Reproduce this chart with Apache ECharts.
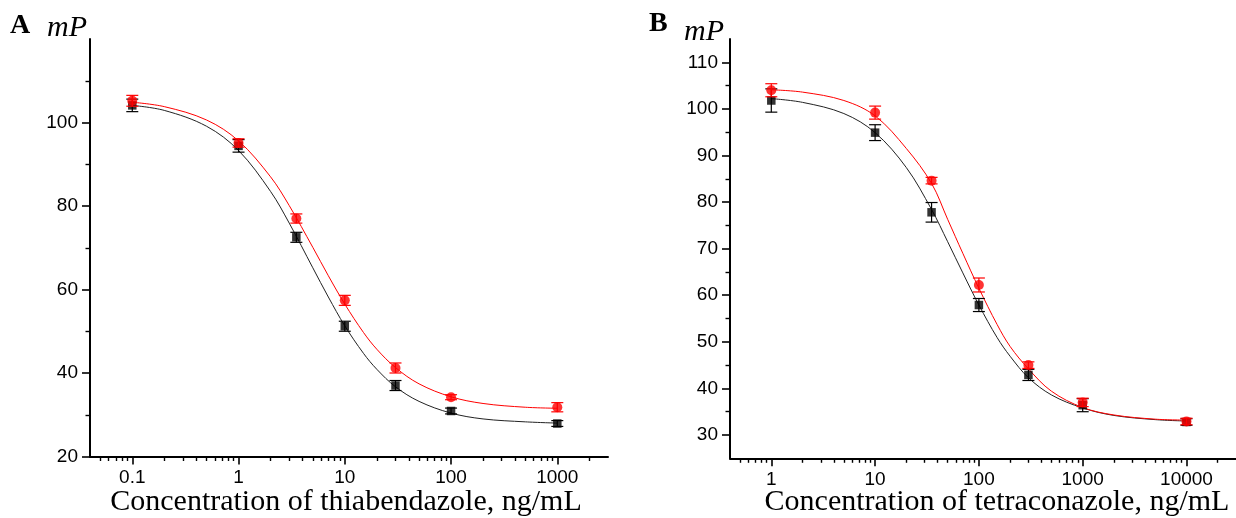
<!DOCTYPE html>
<html><head><meta charset="utf-8">
<script src="https://cdn.jsdelivr.net/npm/echarts@6/dist/echarts.min.js"></script>
<style>html,body{margin:0;padding:0;background:#fff}#c{width:1236px;height:518px}</style>
</head><body><div id="c"></div>
<script>
// ---------- Panel A: thiabendazole ----------
const xA = [0.1, 1, 3.5, 10, 30, 100, 1000];
const blackA = [104.1, 94.4, 72.5, 51.2, 37.0, 30.9, 27.9];
const blackAErr = [1.5, 1.5, 1.2, 1.2, 1.2, 0.7, 0.7];
const redA = [105.2, 95.1, 77.0, 57.4, 41.2, 34.2, 31.8];
const redAErr = [1.3, 1.0, 1.1, 1.2, 1.2, 0.6, 1.1];
const fitXA = [0.1, 0.2, 0.5, 1, 2, 3, 5, 7, 10, 15, 20, 30, 50, 100, 200, 500, 1000];
const fitBlackA = [104.1, 102.9, 99.1, 93.3, 83.5, 75.9, 65.2, 58.2, 51.3, 44.7, 40.9, 36.7, 33.2, 30.4, 29.0, 28.3, 28.0];
const fitRedA = [104.85, 103.8, 100.6, 95.6, 87.0, 80.1, 70.1, 63.3, 56.5, 49.7, 45.7, 41.3, 37.4, 34.3, 32.7, 31.8, 31.55];
const xMajorA = [0.1, 1, 10, 100, 1000];
const yLabelsA = [20, 40, 60, 80, 100];

// ---------- Panel B: tetraconazole ----------
const xB = [1, 10, 35, 100, 300, 1000, 10000];
const blackB = [101.8, 94.9, 77.8, 57.9, 42.9, 36.4, 32.8];
const blackBErr = [2.5, 1.7, 2.1, 1.4, 1.2, 1.4, 0.7];
const redB = [104.0, 99.2, 84.6, 62.2, 45.0, 37.0, 32.9];
const redBErr = [1.4, 1.4, 0.7, 1.5, 0.7, 0.9, 0.7];
const fitXB = [1, 2, 5, 10, 20, 35, 50, 70, 100, 150, 200, 300, 500, 1000, 2000, 5000, 10000];
const fitBlackB = [102.2, 101.4, 99.0, 94.9, 87.4, 78.4, 71.5, 64.8, 57.9, 50.9, 46.9, 42.3, 38.6, 35.8, 34.2, 33.3, 33.0];
const fitRedB = [104.1, 103.6, 101.8, 98.5, 91.5, 84.0, 76.3, 69.0, 61.5, 53.7, 49.0, 44.2, 39.4, 35.9, 34.3, 33.4, 33.2];
const xMajorB = [1, 10, 100, 1000, 10000];
const yLabelsB = [30, 40, 50, 60, 70, 80, 90, 100, 110];
const yMinorB = [35, 45, 55, 65, 75, 85, 95, 105];

function minorLog(lo, hi) {
  const out = [];
  for (let e = -3; e <= 5; e++) {
    for (let m = 2; m <= 9; m++) {
      const v = +(m * Math.pow(10, e)).toPrecision(6);
      if (v >= lo && v <= hi) out.push(v);
    }
  }
  return out;
}
const xMinorA = minorLog(0.045, 2500);
const xMinorB = minorLog(0.45, 25000);

const sansFont = 'Liberation Sans';
const AX = '#000';
const LABEL_SIZE = 19;

function logFmt(v) {
  const n = Number(v);
  const l = Math.log10(n);
  if (Math.abs(l - Math.round(l)) > 1e-6) return '';
  return String(parseFloat(n.toPrecision(6)));
}

function xAxes(grid, min, max, majors, minors) {
  return [
    { type: 'log', gridIndex: grid, min: min, max: max, position: 'bottom',
      axisLine: { show: true, lineStyle: { color: AX, width: 2 } },
      axisTick: { show: true, customValues: majors, length: 8, lineStyle: { color: AX, width: 1.6 } },
      axisLabel: { show: true, customValues: majors, formatter: logFmt, margin: 12,
        color: '#000', fontFamily: sansFont, fontSize: LABEL_SIZE },
      splitLine: { show: false }, minorTick: { show: false } },
    { type: 'log', gridIndex: grid, min: min, max: max, position: 'bottom',
      axisLine: { show: false },
      axisTick: { show: true, customValues: minors, length: 4.5, lineStyle: { color: AX, width: 1.4 } },
      axisLabel: { show: false }, splitLine: { show: false } }
  ];
}

function errRender(color) {
  return function (params, api) {
    const x = api.value(0);
    const a = api.coord([x, api.value(1)]);
    const b = api.coord([x, api.value(2)]);
    const h = 6;
    const st = { stroke: color, lineWidth: 1.2 };
    return { type: 'group', children: [
      { type: 'line', shape: { x1: a[0], y1: a[1], x2: b[0], y2: b[1] }, style: st },
      { type: 'line', shape: { x1: a[0] - h, y1: a[1], x2: a[0] + h, y2: a[1] }, style: st },
      { type: 'line', shape: { x1: b[0] - h, y1: b[1], x2: b[0] + h, y2: b[1] }, style: st }
    ] };
  };
}
function errData(xs, ys, es) { return xs.map((x, i) => [x, ys[i] - es[i], ys[i] + es[i]]); }
function pairs(xs, ys) { return xs.map((x, i) => [x, ys[i]]); }

function panelSeries(xi, yi, xs, bl, blE, rd, rdE, fx, fb, fr) {
  return [
    { type: 'line', xAxisIndex: xi, yAxisIndex: yi, data: pairs(fx, fb), smooth: 0.35, showSymbol: false,
      lineStyle: { color: '#222', width: 1 }, z: 2, silent: true },
    { type: 'line', xAxisIndex: xi, yAxisIndex: yi, data: pairs(fx, fr), smooth: 0.35, showSymbol: false,
      lineStyle: { color: '#ff0000', width: 1 }, z: 3, silent: true },
    { type: 'custom', xAxisIndex: xi, yAxisIndex: yi, renderItem: errRender('#000'),
      data: errData(xs, bl, blE), encode: { x: 0, y: [1, 2] }, z: 4 },
    { type: 'scatter', xAxisIndex: xi, yAxisIndex: yi, data: pairs(xs, bl), symbol: 'rect', symbolSize: 8.5,
      itemStyle: { color: '#000' }, z: 5 },
    { type: 'custom', xAxisIndex: xi, yAxisIndex: yi, renderItem: errRender('#ff0000'),
      data: errData(xs, rd, rdE), encode: { x: 0, y: [1, 2] }, z: 6 },
    { type: 'scatter', xAxisIndex: xi, yAxisIndex: yi, data: pairs(xs, rd), symbol: 'circle', symbolSize: 10,
      itemStyle: { color: '#ff0000' }, z: 7 }
  ];
}

const yAxisBase = (grid, min, max, interval, labels) => ({
  type: 'value', gridIndex: grid, min: min, max: max, interval: interval, position: 'left',
  axisLine: { show: true, lineStyle: { color: AX, width: 2 } },
  axisTick: { show: true, customValues: labels, length: 8, lineStyle: { color: AX, width: 1.6 } },
  axisLabel: { show: true, customValues: labels, margin: 12, color: '#000', fontFamily: sansFont, fontSize: LABEL_SIZE },
  splitLine: { show: false }
});

const yA = yAxisBase(0, 20, 120, 20, yLabelsA);
yA.minorTick = { show: true, splitNumber: 2, length: 4.5, lineStyle: { color: AX, width: 1.4 } };
yA.minorSplitLine = { show: false };
const yB = yAxisBase(1, 25, 115, 5, yLabelsB);
const yBminor = { type: 'value', gridIndex: 1, min: 25, max: 115, interval: 5, position: 'left',
  axisLine: { show: false },
  axisTick: { show: true, customValues: yMinorB, length: 4.5, lineStyle: { color: AX, width: 1.4 } },
  axisLabel: { show: false }, splitLine: { show: false } };

const option = {
  backgroundColor: '#fff',
  animation: false,
  grid: [
    { left: 90, top: 39, width: 518, height: 417.5 },
    { left: 730, top: 39, width: 518, height: 419.3 }
  ],
  xAxis: [].concat(xAxes(0, 0.04, 3000, xMajorA, xMinorA), xAxes(1, 0.4, 30000, xMajorB, xMinorB)),
  yAxis: [yA, yB, yBminor],
  series: [].concat(
    panelSeries(0, 0, xA, blackA, blackAErr, redA, redAErr, fitXA, fitBlackA, fitRedA),
    panelSeries(2, 1, xB, blackB, blackBErr, redB, redBErr, fitXB, fitBlackB, fitRedB)
  ),
  graphic: [
    { type: 'text', left: 10, top: 12, style: { text: 'A', font: 'bold 28px "Liberation Serif"', fill: '#000' } },
    { type: 'text', left: 47, top: 13, style: { text: 'mP', font: 'italic 30px "Liberation Serif"', fill: '#000' } },
    { type: 'text', left: 649, top: 10, style: { text: 'B', font: 'bold 28px "Liberation Serif"', fill: '#000' } },
    { type: 'text', left: 684, top: 17, style: { text: 'mP', font: 'italic 30px "Liberation Serif"', fill: '#000' } },
    { type: 'text', x: 346, y: 502, style: { text: 'Concentration of thiabendazole, ng/mL', font: '30px "Liberation Serif"',
      fill: '#000', align: 'center', verticalAlign: 'middle' } },
    { type: 'text', x: 997, y: 502, style: { text: 'Concentration of tetraconazole, ng/mL', font: '30px "Liberation Serif"',
      fill: '#000', align: 'center', verticalAlign: 'middle' } }
  ]
};
const chart = echarts.init(document.getElementById('c'), null, { renderer: 'canvas' });
chart.setOption(option);
</script></body></html>
